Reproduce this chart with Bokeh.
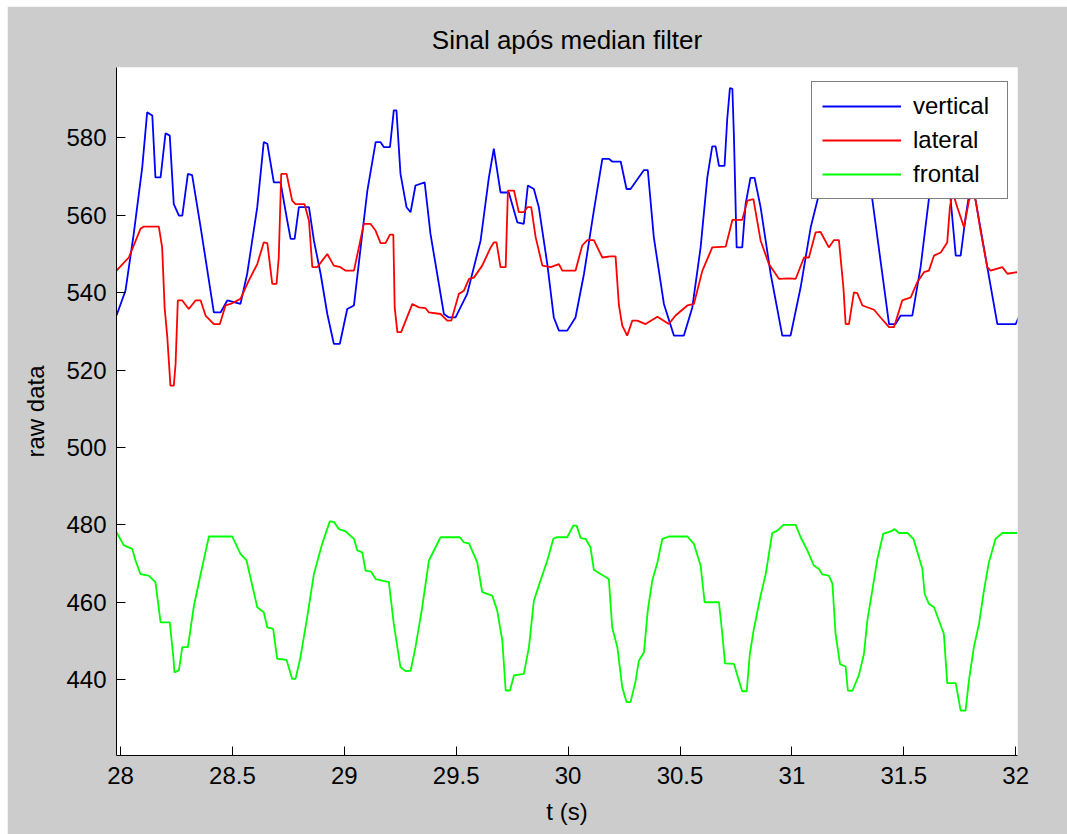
from bokeh.plotting import figure
from bokeh.models import Range1d, FixedTicker
from bokeh.embed import file_html
from bokeh.resources import INLINE

title_text = "Sinal após median filter"
x_label = "t (s)"
y_label = "raw data"
series_names = ["vertical", "lateral", "frontal"]
series_colors = ["#0000ff", "#ff0000", "#00ff00"]

x_ticks = [28, 28.5, 29, 29.5, 30, 30.5, 31, 31.5, 32]
x_tick_labels = ["28", "28.5", "29", "29.5", "30", "30.5", "31", "31.5", "32"]
y_ticks = [440, 460, 480, 500, 520, 540, 560, 580]

t_vertical = [27.982, 28.022, 28.059, 28.097, 28.119, 28.142, 28.156, 28.179, 28.201, 28.220,
              28.238, 28.261, 28.276, 28.301, 28.320, 28.358, 28.417, 28.447, 28.477, 28.536,
              28.566, 28.611, 28.640, 28.656, 28.685, 28.715, 28.745, 28.760, 28.778, 28.797,
              28.842, 28.864, 28.894, 28.924, 28.953, 28.980, 29.013, 29.043, 29.073, 29.103,
              29.140, 29.162, 29.177, 29.204, 29.221, 29.233, 29.251, 29.278, 29.296, 29.318,
              29.359, 29.385, 29.445, 29.467, 29.497, 29.549, 29.609, 29.646, 29.668, 29.698,
              29.735, 29.773, 29.802, 29.820, 29.847, 29.869, 29.907, 29.936, 29.959, 29.996,
              30.033, 30.071, 30.115, 30.153, 30.182, 30.197, 30.235, 30.261, 30.279, 30.339,
              30.356, 30.383, 30.428, 30.473, 30.517, 30.555, 30.592, 30.622, 30.644, 30.659,
              30.674, 30.699, 30.711, 30.723, 30.734, 30.741, 30.753, 30.778, 30.793, 30.815,
              30.833, 30.860, 30.905, 30.957, 30.994, 31.039, 31.084, 31.121, 31.164, 31.200,
              31.253, 31.298, 31.359, 31.434, 31.463, 31.486, 31.538, 31.575, 31.612, 31.647,
              31.687, 31.709, 31.732, 31.754, 31.776, 31.799, 31.821, 31.873, 31.918, 32.000,
              32.013]
vertical = [534.1, 540.5, 555.2, 572.4, 586.6, 585.8, 569.8, 569.8, 581.2, 580.6,
            562.9, 559.9, 559.9, 570.7, 570.4, 556.9, 534.9, 534.9, 538.0, 537.1,
            544.9, 562.1, 578.9, 578.5, 568.5, 568.5, 558.6, 553.9, 553.9, 562.1,
            562.1, 553.5, 544.9, 534.5, 526.8, 526.8, 535.8, 536.7, 551.7, 566.4,
            578.9, 578.9, 577.6, 577.6, 587.1, 587.1, 570.7, 562.1, 560.8, 567.7,
            568.5, 555.2, 534.5, 533.6, 533.6, 539.7, 553.5, 569.8, 577.2, 565.9,
            565.9, 558.2, 557.8, 567.7, 566.8, 562.1, 547.4, 533.6, 530.2, 530.2,
            533.6, 544.9, 561.2, 574.6, 574.6, 573.9, 573.9, 566.8, 566.8, 571.7,
            571.7, 554.3, 537.1, 528.9, 528.9, 536.2, 551.7, 569.8, 577.8, 577.8,
            572.8, 572.8, 584.9, 592.9, 592.7, 580.2, 551.7, 551.7, 562.9, 569.7,
            569.7, 562.1, 544.9, 528.9, 528.9, 541.4, 556.9, 565.5, 574.0, 578.0,
            577.0, 572.0, 564.2, 531.9, 531.9, 534.1, 534.1, 546.6, 564.2, 572.0,
            571.0, 564.2, 549.6, 549.6, 559.5, 568.0, 563.8, 546.6, 531.9, 531.9,
            533.6]

t_lateral = [27.982, 28.037, 28.059, 28.089, 28.104, 28.171, 28.186, 28.197, 28.209, 28.223,
             28.238, 28.246, 28.256, 28.276, 28.305, 28.335, 28.358, 28.380, 28.417, 28.444,
             28.469, 28.492, 28.536, 28.573, 28.611, 28.640, 28.656, 28.678, 28.697, 28.707,
             28.718, 28.742, 28.767, 28.782, 28.822, 28.842, 28.857, 28.879, 28.924, 28.953,
             28.983, 29.006, 29.043, 29.065, 29.087, 29.117, 29.140, 29.162, 29.184, 29.204,
             29.219, 29.225, 29.237, 29.254, 29.304, 29.333, 29.363, 29.378, 29.430, 29.460,
             29.478, 29.512, 29.534, 29.557, 29.579, 29.616, 29.654, 29.668, 29.680, 29.698,
             29.721, 29.731, 29.758, 29.780, 29.802, 29.818, 29.835, 29.855, 29.885, 29.922,
             29.959, 29.974, 30.033, 30.063, 30.086, 30.115, 30.153, 30.190, 30.212, 30.227,
             30.242, 30.264, 30.287, 30.309, 30.346, 30.399, 30.450, 30.480, 30.533, 30.562,
             30.600, 30.644, 30.704, 30.734, 30.778, 30.801, 30.828, 30.860, 30.897, 30.942,
             30.987, 31.017, 31.054, 31.076, 31.106, 31.128, 31.165, 31.188, 31.210, 31.230,
             31.240, 31.255, 31.277, 31.292, 31.315, 31.367, 31.396, 31.434, 31.456, 31.493,
             31.531, 31.560, 31.590, 31.612, 31.635, 31.665, 31.694, 31.706, 31.718, 31.739,
             31.769, 31.791, 31.808, 31.821, 31.843, 31.873, 31.888, 31.940, 31.963, 32.007]
lateral = [545.7, 549.1, 552.2, 556.5, 557.1, 557.1, 551.7, 536.2, 528.5, 516.0,
           516.0, 521.6, 538.0, 538.0, 535.8, 538.0, 538.0, 534.1, 531.9, 531.9,
           536.7, 537.1, 538.4, 543.1, 547.4, 553.0, 552.8, 542.3, 542.3, 549.1,
           570.7, 570.7, 563.8, 562.9, 562.9, 558.6, 546.6, 546.6, 550.0, 547.0,
           546.6, 545.7, 545.7, 551.7, 557.8, 557.8, 556.0, 552.8, 552.8, 555.0,
           555.0, 536.2, 529.8, 529.8, 537.1, 536.2, 536.0, 534.9, 534.5, 532.8,
           532.8, 539.7, 540.5, 543.6, 543.9, 547.0, 551.7, 553.0, 553.0, 546.6,
           546.6, 566.4, 566.4, 560.8, 560.8, 562.1, 562.1, 554.3, 547.0, 546.6,
           547.4, 545.7, 545.7, 552.2, 553.6, 553.6, 549.1, 549.4, 549.4, 536.7,
           531.5, 528.9, 532.8, 532.8, 531.9, 533.8, 531.9, 534.1, 536.7, 537.1,
           545.7, 551.7, 551.9, 558.8, 558.8, 563.8, 564.2, 553.5, 547.4, 543.6,
           543.7, 543.6, 549.1, 549.1, 555.6, 555.7, 551.7, 553.6, 553.6, 541.4,
           531.9, 531.9, 540.1, 539.9, 536.7, 535.6, 533.6, 531.1, 531.1, 538.0,
           538.8, 542.7, 545.3, 545.7, 549.6, 550.4, 553.0, 562.1, 566.0, 562.1,
           556.9, 563.8, 566.0, 563.8, 556.0, 546.6, 545.7, 546.6, 544.9, 545.3]

t_frontal = [27.982, 28.015, 28.052, 28.067, 28.089, 28.126, 28.156, 28.179, 28.220, 28.236,
             28.241, 28.261, 28.276, 28.301, 28.328, 28.358, 28.395, 28.499, 28.536, 28.563,
             28.611, 28.640, 28.656, 28.682, 28.700, 28.742, 28.767, 28.782, 28.804, 28.834,
             28.864, 28.901, 28.935, 28.953, 28.976, 29.006, 29.043, 29.058, 29.080, 29.095,
             29.120, 29.140, 29.199, 29.221, 29.251, 29.274, 29.296, 29.318, 29.348, 29.378,
             29.430, 29.516, 29.534, 29.557, 29.594, 29.616, 29.661, 29.683, 29.706, 29.721,
             29.740, 29.758, 29.802, 29.825, 29.847, 29.869, 29.907, 29.934, 29.948, 29.996,
             30.023, 30.038, 30.056, 30.078, 30.100, 30.115, 30.145, 30.182, 30.197, 30.220,
             30.242, 30.261, 30.279, 30.302, 30.316, 30.339, 30.356, 30.376, 30.399, 30.421,
             30.450, 30.533, 30.562, 30.592, 30.610, 30.674, 30.689, 30.701, 30.741, 30.763,
             30.778, 30.798, 30.812, 30.830, 30.860, 30.883, 30.912, 30.935, 30.962, 31.017,
             31.039, 31.069, 31.098, 31.121, 31.136, 31.165, 31.181, 31.195, 31.215, 31.240,
             31.250, 31.270, 31.299, 31.322, 31.337, 31.359, 31.382, 31.408, 31.441, 31.459,
             31.478, 31.516, 31.543, 31.568, 31.583, 31.593, 31.612, 31.635, 31.657, 31.679,
             31.694, 31.732, 31.754, 31.776, 31.791, 31.813, 31.836, 31.858, 31.880, 31.910,
             31.940, 32.007]
frontal = [478.1, 474.7, 473.8, 470.8, 467.3, 466.9, 465.2, 454.8, 454.8, 445.8,
           441.9, 442.4, 448.4, 448.4, 459.1, 467.3, 477.0, 477.0, 472.5, 470.8,
           458.7, 457.4, 453.5, 453.1, 445.4, 445.1, 440.2, 440.2, 445.8, 456.1,
           467.3, 475.1, 480.9, 480.8, 478.9, 478.3, 476.4, 473.4, 472.9, 468.2,
           467.9, 466.0, 465.2, 454.4, 443.2, 442.2, 442.3, 448.4, 458.7, 470.8,
           476.8, 476.8, 475.5, 475.2, 470.3, 462.6, 461.7, 457.9, 450.1, 437.2,
           437.2, 441.1, 441.5, 448.4, 460.4, 464.3, 470.8, 476.4, 476.8, 476.8,
           479.8, 479.8, 476.6, 476.4, 474.2, 468.4, 467.3, 466.0, 453.5, 448.4,
           438.0, 434.2, 434.2, 439.8, 444.9, 447.1, 457.9, 465.6, 470.3, 476.4,
           477.0, 477.0, 475.1, 469.5, 460.0, 460.0, 451.8, 444.2, 444.1, 439.8,
           437.0, 437.0, 446.7, 453.1, 461.7, 467.3, 477.9, 478.5, 480.0, 480.0,
           476.8, 473.4, 469.5, 468.6, 467.2, 466.9, 464.8, 451.8, 444.0, 443.4,
           437.2, 437.1, 441.1, 446.7, 455.3, 463.0, 471.2, 477.7, 478.3, 478.9,
           477.9, 477.9, 476.4, 471.6, 468.6, 462.2, 459.6, 458.7, 455.3, 451.8,
           439.1, 439.1, 432.0, 432.0, 439.8, 448.4, 454.4, 463.0, 470.3, 476.4,
           477.9, 477.9]

assert len(t_vertical) == len(vertical)
assert len(t_lateral) == len(lateral)
assert len(t_frontal) == len(frontal)

FONT = "Liberation Sans"
GREY = "#cccccc"

p = figure(width=1060, height=828, output_backend="svg", toolbar_location=None,
           x_range=Range1d(27.982, 32.008), y_range=Range1d(420.4, 598.2),
           min_border_left=109, min_border_right=50, min_border_top=61, min_border_bottom=79,
           title=title_text)
p.margin = (6, 0, 0, 7)
p.border_fill_color = GREY
p.background_fill_color = "white"
p.outline_line_color = None
p.grid.visible = False

p.title.align = "center"
p.title.text_font = FONT
p.title.text_font_size = "26px"
p.title.text_font_style = "normal"
p.title.text_color = "black"
p.title.standoff = 26

for ax in (p.xaxis[0], p.yaxis[0]):
    ax.axis_line_color = "black"
    ax.axis_line_width = 1
    ax.major_tick_line_color = "black"
    ax.major_tick_in = 9
    ax.major_tick_out = 0
    ax.minor_tick_line_color = None
    ax.major_label_text_font = FONT
    ax.major_label_text_font_size = "24px"
    ax.major_label_text_color = "black"
    ax.axis_label_text_font = FONT
    ax.axis_label_text_font_size = "24px"
    ax.axis_label_text_font_style = "normal"
    ax.axis_label_text_color = "black"

p.xaxis.ticker = FixedTicker(ticks=x_ticks)
p.xaxis.major_label_overrides = {t: s for t, s in zip(x_ticks, x_tick_labels)}
p.xaxis.major_label_standoff = 11
p.xaxis.axis_label = x_label
p.xaxis.axis_label_standoff = 11

p.yaxis.ticker = FixedTicker(ticks=y_ticks)
p.yaxis.major_label_standoff = 10
p.yaxis.axis_label = y_label
p.yaxis.axis_label_standoff = 14

for tx, ty, name, col in zip([t_vertical, t_lateral, t_frontal],
                             [vertical, lateral, frontal],
                             series_names, series_colors):
    p.line(tx, ty, line_color=col, line_width=1.8, legend_label=name)

lg = p.legend[0]
lg.location = (695, 556)
lg.border_line_color = "black"
lg.border_line_width = 1
lg.background_fill_color = "white"
lg.background_fill_alpha = 1
lg.label_text_font = FONT
lg.label_text_font_size = "24px"
lg.label_text_color = "black"
lg.glyph_width = 79
lg.glyph_height = 28
lg.label_height = 28
lg.label_width = 84
lg.label_standoff = 12
lg.padding = 10
lg.spacing = 6
lg.margin = 0

open("out.html", "w").write(file_html(p, INLINE))
